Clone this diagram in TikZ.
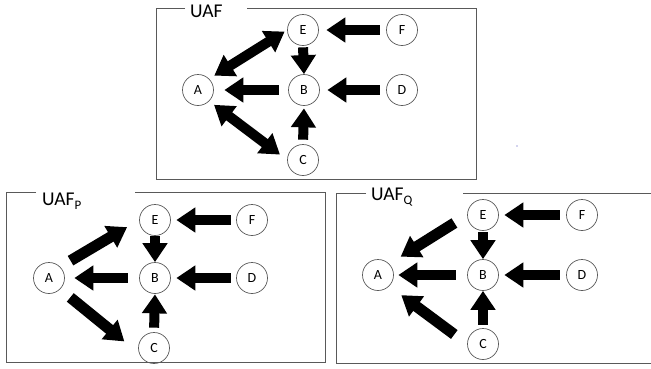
\documentclass[tikz,border=0pt]{standalone}
\usepackage{fontspec}
\setmainfont{Carlito}
\usetikzlibrary{arrows.meta}
\begin{document}
\begin{tikzpicture}[x=1pt,y=-1pt,
  nd/.style={circle,draw=black!65,line width=0.7pt,minimum size=31pt,inner sep=0pt,font=\fontsize{14}{14}\selectfont},
  frame/.style={draw=black!65,line width=0.9pt},
  blk/.style={line width=10pt,-{Triangle[length=19pt,width=24pt]}},
  dblk/.style={line width=10pt,{Triangle[length=19pt,width=24pt]}-{Triangle[length=19pt,width=24pt]}},
  ttl/.style={anchor=base west,inner sep=0pt,font=\fontsize{19.5}{20}\selectfont}]
\useasboundingbox (0,0) rectangle (651,368);
% frames
\draw[frame] (185,8) -| (156,179) -| (476,8) -- (247,8);
\draw[frame] (36,192) -| (6,362) -| (325,192) -- (135,192);
\draw[frame] (366,193) -| (336,363) -- (651.5,363);
\draw[frame] (463,193) -- (651.5,193);
% titles
\node[ttl] (t1) at (190,17) {UAF};
\node[ttl] (t2) at (42,205) {UAF\raisebox{-4pt}{\fontsize{13}{13}\selectfont P}};
\node[ttl] (t3) at (371,200) {UAF\raisebox{-4pt}{\fontsize{13}{13}\selectfont Q}};
% top panel
\node[nd] (E1) at (303,30) {E};
\node[nd] (F1) at (402,30) {F};
\node[nd] (A1) at (198,90) {A};
\node[nd] (B1) at (304,90) {B};
\node[nd] (D1) at (402,90) {D};
\node[nd] (C1) at (303,160) {C};
\draw[blk, shorten <=6.5pt, shorten >=7.5pt] (F1) -- (E1);
\draw[blk, shorten <=1.5pt, shorten >=0pt] (E1.south) -- (B1.north);
\draw[blk, shorten <=6.5pt, shorten >=7.5pt] (D1) -- (B1);
\draw[blk, shorten <=9.5pt, shorten >=10.5pt] (B1) -- (A1);
\draw[blk, shorten <=4.5pt, shorten >=2.5pt] (C1.north) -- (B1.south);
\draw[dblk, shorten <=6pt, shorten >=3pt] (A1.45) -- (E1.west);
\draw[dblk, shorten <=6pt, shorten >=9pt] (A1.-45) -- (C1.west);
\fill[blue!45!gray] (517,146) circle (0.7pt);
% bottom-left panel
\node[nd] (E2) at (155,220) {E};
\node[nd] (F2) at (252,220) {F};
\node[nd] (A2) at (49,278) {A};
\node[nd] (B2) at (155,278) {B};
\node[nd] (D2) at (252,278) {D};
\node[nd] (C2) at (154,348) {C};
\draw[blk, shorten <=5.5pt, shorten >=5.5pt] (F2) -- (E2);
\draw[blk] (E2.south) -- (B2.north);
\draw[blk, shorten <=5.5pt, shorten >=5.5pt] (D2) -- (B2);
\draw[blk, shorten <=11.5pt, shorten >=9.5pt] (B2) -- (A2);
\draw[blk, shorten <=4.5pt, shorten >=0.5pt] (C2.north) -- (B2.south);
\draw[blk, line width=11pt, shorten <=12pt, shorten >=14pt] (A2.45) -- (E2.west);
\draw[blk, line width=11pt, shorten <=13pt, shorten >=19pt] (A2.-45) -- (C2.200);
% bottom-right panel
\node[nd] (E3) at (483,215) {E};
\node[nd] (F3) at (582,215) {F};
\node[nd] (A3) at (378,275) {A};
\node[nd] (B3) at (483,275) {B};
\node[nd] (D3) at (582,275) {D};
\node[nd] (C3) at (483,344) {C};
\draw[blk, shorten <=6.5pt, shorten >=5.5pt] (F3) -- (E3);
\draw[blk, shorten <=1.5pt] (E3.south) -- (B3.north);
\draw[blk, shorten <=6.5pt, shorten >=5.5pt] (D3) -- (B3);
\draw[blk, shorten <=11.5pt, shorten >=4.5pt] (B3) -- (A3);
\draw[blk, shorten <=3.5pt] (C3.north) -- (B3.south);
\draw[blk, line width=11pt, shorten <=15pt, shorten >=13.5pt] (E3.west) -- (A3.45);
\draw[blk, line width=11pt, shorten <=16pt, shorten >=15pt] (C3.west) -- (A3.-45);
\end{tikzpicture}
\end{document}
